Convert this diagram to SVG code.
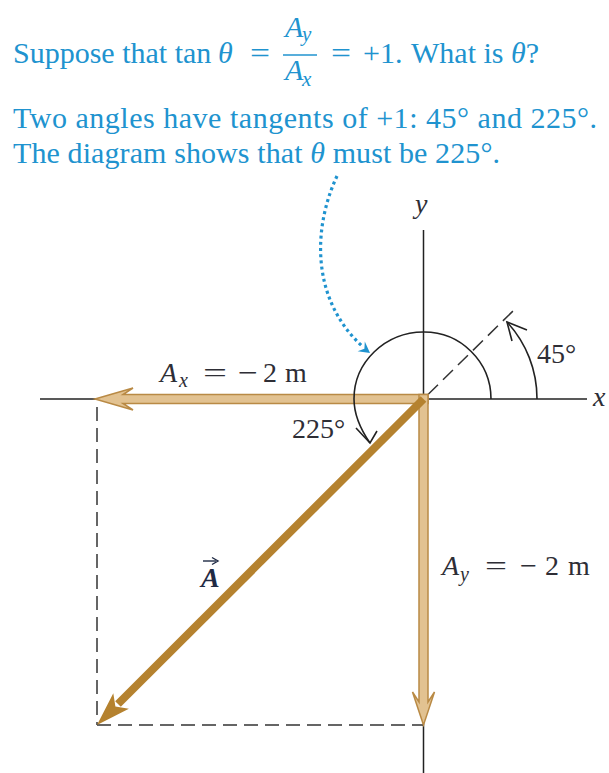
<svg xmlns="http://www.w3.org/2000/svg" width="609" height="773" viewBox="0 0 609 773">
<defs>
<style>
.blue{fill:#2093cf;font-family:"Liberation Serif","Times New Roman",serif;font-size:30px}
.lbl{fill:#2e2e36;font-family:"Liberation Serif","Times New Roman",serif;font-size:28px}
.it{font-style:italic}
.sub{font-style:italic;font-size:20px}
.axis{stroke:#222;stroke-width:1.5;fill:none}
.dash{stroke:#333;stroke-width:1.5;fill:none;stroke-dasharray:14 7}
.arc{stroke:#222;stroke-width:1.6;fill:none}
.comp{fill:#e2c291;stroke:#b98a45;stroke-width:1.5;stroke-linejoin:miter}
</style>
</defs>
<rect width="609" height="773" fill="#fff"/>

<g id="caption">
<text class="blue" x="13" y="63">Suppose that tan</text>
<text class="blue it" x="218" y="63">θ</text>
<text class="blue" x="250" y="63" textLength="20" lengthAdjust="spacingAndGlyphs">=</text>
<text class="blue it" x="285" y="37">A</text>
<text class="blue sub" x="302" y="41" style="font-size:21px">y</text>
<line x1="283" y1="55" x2="317" y2="55" stroke="#2093cf" stroke-width="1.5"/>
<text class="blue it" x="285" y="80">A</text>
<text class="blue sub" x="302" y="86" style="font-size:21px">x</text>
<text class="blue" x="331" y="63" textLength="20" lengthAdjust="spacingAndGlyphs">=</text>
<text class="blue" x="363" y="63">+1.</text>
<text class="blue" x="411" y="63">What is <tspan class="it">θ</tspan>?</text>
<text class="blue" x="13" y="128" textLength="584" lengthAdjust="spacing">Two angles have tangents of +1: 45° and 225°.</text>
<text class="blue" x="13" y="163" textLength="487" lengthAdjust="spacing">The diagram shows that <tspan class="it">θ</tspan> must be 225°.</text>
</g>

<g id="axes">
<line class="axis" x1="40" y1="399" x2="587" y2="399"/>
<line class="axis" x1="423.5" y1="230" x2="423.5" y2="773"/>
<text class="lbl it" x="593" y="406">x</text>
<text class="lbl it" x="415" y="213">y</text>
</g>

<g id="connectors">
<line class="dash" x1="97" y1="407" x2="97" y2="725"/>
<line class="dash" x1="97" y1="725" x2="423" y2="725"/>
<line class="dash" x1="428" y1="394.5" x2="514" y2="310"/>
<path d="M337,176 C312,230 312,300 362,346" fill="none" stroke="#2093cf" stroke-width="3.2" stroke-dasharray="3 3.2"/>
<polygon points="370,353 357.6,351.2 364.4,348.8 364.8,341.6" fill="#2093cf"/>
</g>

<g id="Ax">
<polygon class="comp" points="95,399 133,388 123,394.5 428,394.5 428,403.5 123,403.5 133,410"/>
</g>
<g id="Ay">
<polygon class="comp" points="423.5,725 412.5,692 419,702 419,394.5 428,394.5 428,702 434.5,692"/>
</g>
<g id="A">
<line x1="423.5" y1="399" x2="118" y2="704" stroke="#b5822f" stroke-width="8"/>
<polygon points="97,725 113.3,693.2 115.4,706.6 128.9,708.8" fill="#b5822f"/>
</g>

<g id="angle225">
<path class="arc" d="M491,399 A67,67 0 0 0 423.5,332 A70,67 0 0 0 354,399 C354,415 361,430 370,443"/>
<polyline class="arc" points="356,428 370,443 377,431"/>
<text class="lbl" x="292" y="438">225°</text>
</g>

<g id="angle45">
<path class="arc" d="M537,399 A113,113 0 0 0 507,322"/>
<polyline class="arc" points="527,330 507,322 512,341"/>
<text class="lbl" x="537" y="363">45°</text>
</g>

<g id="labels">
<text class="lbl it" x="160" y="382">A</text>
<text class="lbl sub" x="179" y="387">x</text>
<text class="lbl" x="203" y="382" textLength="24" lengthAdjust="spacingAndGlyphs">=</text>
<text class="lbl" x="238" y="382" textLength="20" lengthAdjust="spacingAndGlyphs">−</text>
<text class="lbl" x="263" y="382">2</text>
<text class="lbl" x="285" y="382">m</text>

<text class="lbl it" x="442" y="575">A</text>
<text class="lbl sub" x="460" y="581">y</text>
<text class="lbl" x="485" y="575" textLength="22" lengthAdjust="spacingAndGlyphs">=</text>
<text class="lbl" x="520" y="575" textLength="17" lengthAdjust="spacingAndGlyphs">−</text>
<text class="lbl" x="545" y="575">2</text>
<text class="lbl" x="568" y="575">m</text>

<text class="lbl it" x="201" y="587" style="font-weight:bold;fill:#1f2a44">A</text>
<line x1="203" y1="561" x2="216" y2="561" stroke="#1f2a44" stroke-width="1.4"/>
<polyline points="212,557.5 218,561 212,564.5" fill="none" stroke="#1f2a44" stroke-width="1.4"/>
</g>
</svg>
